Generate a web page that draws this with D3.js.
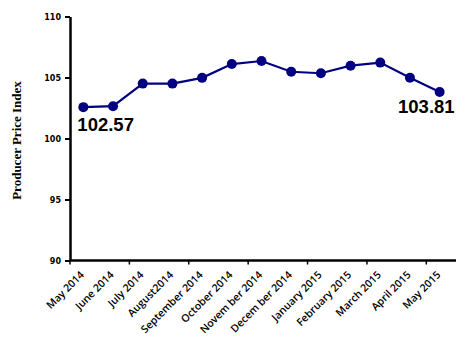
<!DOCTYPE html>
<html>
<head>
<meta charset="utf-8">
<script src="https://cdn.jsdelivr.net/npm/d3@7"></script>
<style>
  body { margin: 0; background: #fff; }
  svg { display: block; }
</style>
</head>
<body>
<svg id="chart" width="469" height="362"></svg>
<script>
// data
const months = ['May 2014', 'June 2014', 'July 2014', 'August2014', 'September 2014', 'October 2014',
  'Novem ber 2014', 'Decem ber 2014', 'January 2015', 'February 2015', 'March 2015', 'April 2015', 'May 2015'];
const ppi = [102.57, 102.65, 104.5, 104.5, 104.97, 106.1, 106.35, 105.47, 105.35, 105.97, 106.22, 104.98, 103.81];
const yTicks = [90, 95, 100, 105, 110];

const width = 469;
const height = 362;
const margin = { top: 16.5, bottom: 101.5, left: 70, right: 13 };

const svg = d3.select('#chart');

const x = d3.scaleBand()
            .domain(months)
            .range([margin.left, width - margin.right]);

const y = d3.scaleLinear()
            .domain([90, 110])
            .range([height - margin.bottom, margin.top]);

// y axis
const yAxis = svg.append('g')
                 .attr('transform', 'translate(' + margin.left + ',0)')
                 .call(d3.axisLeft(y).tickValues(yTicks).tickSize(5).tickSizeOuter(0));
yAxis.select('.domain').attr('stroke', '#000').attr('stroke-width', 2.5);
yAxis.selectAll('.tick line').attr('stroke', '#000').attr('stroke-width', 2);
yAxis.selectAll('.tick text')
     .attr('x', -9)
     .attr('font-family', 'DejaVu Sans')
     .attr('font-weight', 'bold')
     .attr('font-size', '8px')
     .attr('fill', '#000');

// x axis, tick marks every second category
const xAxisG = svg.append('g')
                  .attr('transform', 'translate(0,' + (height - margin.bottom) + ')');
xAxisG.append('line')
      .attr('x1', margin.left).attr('x2', width - margin.right)
      .attr('stroke', '#000').attr('stroke-width', 2.5);
xAxisG.selectAll('.xtick')
      .data(d3.range(0, months.length + 1, 2))
      .enter()
      .append('line')
      .attr('x1', d => margin.left + d * x.step())
      .attr('x2', d => margin.left + d * x.step())
      .attr('y1', 0).attr('y2', 4)
      .attr('stroke', '#000').attr('stroke-width', 1.5);
xAxisG.selectAll('.xlabel')
      .data(months)
      .enter()
      .append('text')
      .attr('transform', d => 'translate(' + (x(d) + x.bandwidth() / 2 + 0) + ',15) rotate(-45)')
      .attr('text-anchor', 'end')
      .attr('font-family', 'Open Sans')
      .attr('font-weight', 600)
      .attr('font-size', '10.5px')
      .attr('fill', '#000')
      .text(d => d);

// y title
svg.append('text')
   .attr('transform', 'translate(21,' + ((margin.top + height - margin.bottom) / 2 + 2) + ') rotate(-90)')
   .attr('text-anchor', 'middle')
   .attr('font-family', 'Liberation Serif')
   .attr('font-weight', 'bold')
   .attr('font-size', '13px')
   .attr('fill', '#000')
   .text('Producer Price Index');

// line + markers
const cx = (d, i) => x(months[i]) + x.bandwidth() / 2 - 1.5;
const line = d3.line()
               .x(cx)
               .y(d => y(d));

svg.append('path')
   .datum(ppi)
   .attr('d', line)
   .attr('fill', 'none')
   .attr('stroke', '#000080')
   .attr('stroke-width', 2.2);

svg.selectAll('.dot')
   .data(ppi)
   .enter()
   .append('circle')
   .attr('cx', cx)
   .attr('cy', d => y(d))
   .attr('r', 5)
   .attr('fill', '#000080');

// data labels on first and last point
const labelled = [0, ppi.length - 1];
svg.selectAll('.dlabel')
   .data(labelled)
   .enter()
   .append('text')
   .attr('x', i => cx(ppi[i], i) + (i === 0 ? -6 : 15))
   .attr('y', i => y(ppi[i]) + (i === 0 ? 24 : 21))
   .attr('text-anchor', i => i === 0 ? 'start' : 'end')
   .attr('font-family', 'Liberation Sans')
   .attr('font-weight', 'bold')
   .attr('font-size', '18.5px')
   .attr('fill', '#000')
   .text(i => ppi[i].toFixed(2));
</script>
</body>
</html>
